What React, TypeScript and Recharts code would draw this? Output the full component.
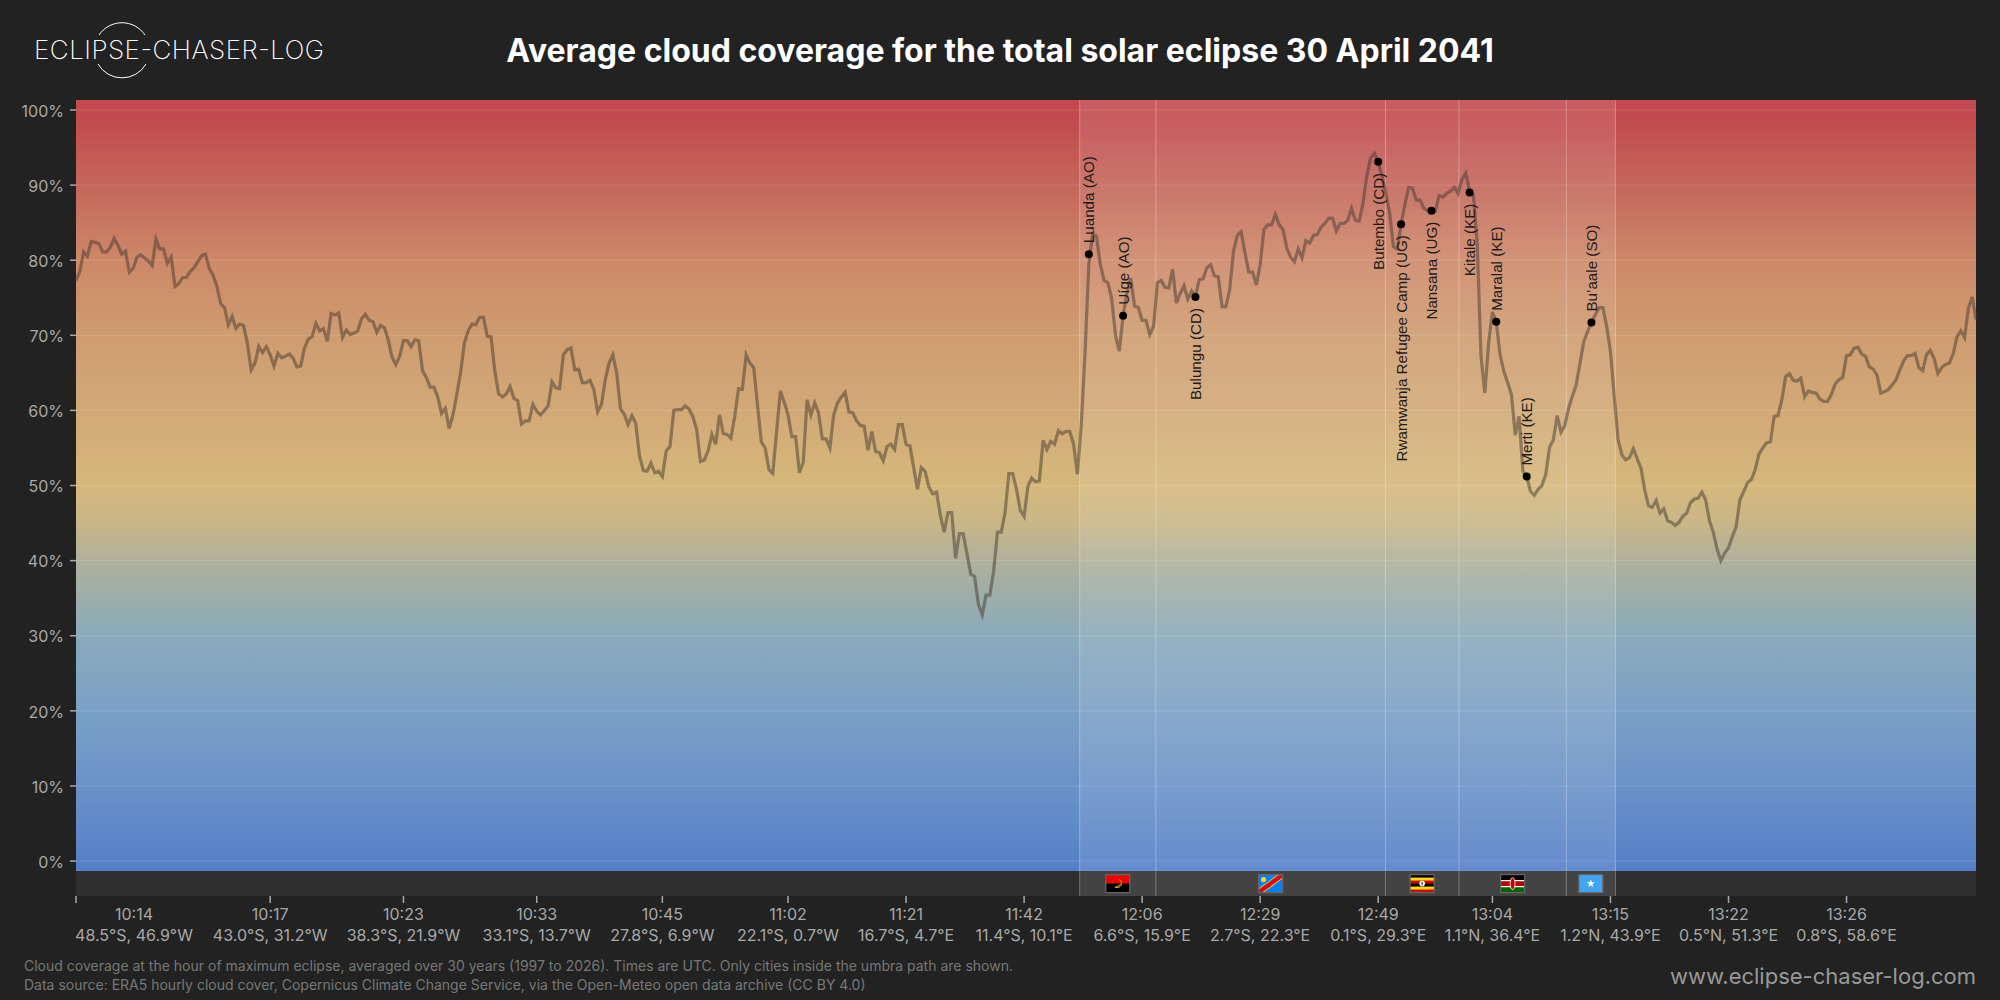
import {
  ComposedChart,
  Line,
  XAxis,
  YAxis,
  ReferenceArea,
  ReferenceLine,
  ReferenceDot,
} from "recharts";

const FONT = "Inter, 'Noto Sans', sans-serif";

// cloud cover along the umbra path, one value per sample (500 samples)
const cloudCover = [
  77.3, 78.5, 81.1, 80.5, 82.5, 82.4, 82.2, 81.1, 81.1, 81.7,
  82.9, 82.0, 80.8, 81.2, 78.4, 78.9, 80.4, 80.7, 80.3, 79.9,
  79.3, 82.8, 81.5, 81.5, 79.6, 80.4, 76.5, 76.9, 77.7, 77.7,
  78.5, 79.0, 79.8, 80.6, 80.8, 78.9, 78.0, 76.5, 74.2, 73.7,
  71.4, 72.5, 70.9, 71.5, 71.3, 69.0, 65.4, 66.3, 68.5, 67.7,
  68.5, 67.4, 65.9, 67.6, 67.0, 67.2, 67.5, 67.0, 65.8, 65.9,
  68.3, 69.5, 69.8, 71.6, 70.6, 70.9, 69.2, 72.9, 72.7, 73.0,
  69.7, 70.7, 70.1, 70.3, 70.6, 72.2, 72.8, 72.0, 71.8, 70.4,
  71.3, 71.0, 69.4, 67.1, 66.1, 67.2, 69.3, 69.3, 68.5, 69.4,
  69.3, 65.3, 64.4, 63.1, 63.1, 61.8, 59.6, 60.3, 57.6, 59.4,
  62.1, 65.0, 69.0, 70.6, 71.5, 71.4, 72.4, 72.4, 69.9, 69.8,
  65.2, 62.2, 61.8, 62.2, 63.2, 61.6, 61.3, 58.2, 58.6, 58.6,
  60.8, 59.9, 59.4, 60.0, 60.6, 63.8, 63.0, 62.9,
  67.4, 68.1, 68.3, 65.4, 65.5, 63.7, 63.7, 64.0, 62.8, 59.8,
  60.8, 64.1, 66.3, 67.4, 65.0, 60.2, 59.5, 58.1, 59.3, 58.3,
  53.9, 52.0, 51.9, 53.0, 51.7, 51.9, 51.2, 54.6, 55.2, 60.0,
  60.1, 60.1, 60.6, 60.2, 59.2, 57.5, 53.2, 53.4, 54.6, 56.8,
  55.5, 59.4, 56.9, 56.8, 56.3, 59.2, 62.9, 62.8, 67.4, 66.3,
  65.7, 60.6, 55.8, 55.0, 52.1, 51.6, 57.2, 62.6, 61.1, 59.4,
  56.5, 56.5, 51.7, 53.1, 61.4, 59.4, 61.0, 59.7, 56.2, 56.2,
  55.0, 59.4, 61.0, 61.8, 62.4, 59.8, 59.7, 58.6, 58.0, 57.9,
  54.7, 57.2, 54.5, 54.4, 53.3, 55.2, 55.5, 54.8, 58.1, 58.1,
  55.5, 55.3, 52.4, 49.5, 52.4, 51.9, 49.8, 48.9, 49.1, 46.1,
  43.8, 46.4, 46.4, 40.3, 43.6, 43.6, 40.9, 38.2, 37.9, 34.2,
  32.8, 35.4, 35.4, 38.6, 43.8, 43.8, 46.4, 51.6, 51.6, 49.5,
  46.7, 45.9, 49.9, 51.0, 50.5, 50.6, 56.0, 54.8, 55.9,
  55.5, 57.3, 56.9, 57.2, 57.2, 55.5, 51.5, 57.9, 67.6,
  79.5, 83.5, 83.2, 79.5, 77.3, 77.0, 74.9, 70.0, 67.9, 72.6,
  75.6, 77.6, 73.9, 73.7, 72.0, 72.0, 70.1, 71.2, 77.0, 77.3,
  76.4, 76.3, 78.8, 74.3, 75.6, 76.6, 74.8, 75.9, 75.2, 77.4,
  77.5, 79.0, 79.4, 77.9, 77.8, 73.8, 73.8, 76.1, 81.2, 83.3,
  83.8, 81.0, 78.4, 78.4, 76.7, 79.4, 84.1, 84.7, 84.7, 86.1,
  84.7, 84.1, 81.6, 80.4, 79.8, 81.5, 80.3, 82.6, 82.3, 83.3,
  83.4, 84.4, 84.9, 85.6, 85.6, 83.9, 84.9, 84.9, 85.3, 86.9,
  85.3, 85.2, 87.6, 91.2, 93.6, 94.2, 93.1, 91.2, 88.9, 86.3,
  81.8, 81.5, 84.8, 87.4, 89.7, 89.6, 88.0, 88.0, 86.9, 86.6,
  86.6, 86.5, 88.6, 88.4, 88.9, 89.2, 89.7, 88.9, 90.8, 91.6,
  89.2, 88.7, 82.3, 67.2, 62.3, 69.0, 73.1, 71.8, 67.4, 65.2,
  63.7, 62.1, 56.7, 59.2, 51.9, 51.2, 49.2, 48.7, 49.5, 50.0,
  51.5, 55.1, 56.1, 59.3, 57.1, 58.0, 60.3, 61.9, 63.4, 66.3,
  69.2, 70.5, 71.7, 72.7, 73.7, 73.7, 71.2, 67.8,
  61.8, 56.1, 54.1, 53.4, 53.7, 54.9, 53.6, 52.3, 49.4, 47.3,
  47.1, 48.0, 46.3, 46.9, 45.3, 45.1, 44.7, 45.1, 45.9, 46.3,
  47.7, 48.2, 48.3, 49.1, 48.1, 45.3, 43.8, 41.5, 40.0, 41.0,
  41.7, 43.2, 44.5, 48.1, 49.2, 50.4, 50.8, 52.1, 54.2, 55.0,
  55.7, 55.8, 59.2, 59.3, 61.4, 64.5, 64.9, 64.0, 63.9, 64.3,
  61.8, 62.6, 62.4, 62.3, 61.5, 61.2, 61.2, 62.1, 63.5, 64.1,
  64.4, 67.3, 67.4, 68.3, 68.4, 67.5, 67.2, 65.8, 65.5, 64.7,
  62.3, 62.5, 62.8, 63.4, 64.1, 65.4, 66.6, 67.3, 67.3, 67.6,
  65.7, 65.3, 67.4, 68.0, 66.9, 64.9, 65.7, 66.1, 66.3, 67.5,
  69.8, 70.6, 69.7, 73.6, 75.1, 72.1,
];

const tickSamples = [0, 51, 86, 121, 154, 187, 218, 249, 280, 311, 342, 372, 403, 434, 465];
const tickTimes = [
  "10:14", "10:17", "10:23", "10:33", "10:45", "11:02", "11:21", "11:42",
  "12:06", "12:29", "12:49", "13:04", "13:15", "13:22", "13:26",
];
const tickCoords = [
  "48.5°S, 46.9°W", "43.0°S, 31.2°W", "38.3°S, 21.9°W", "33.1°S, 13.7°W", "27.8°S, 6.9°W",
  "22.1°S, 0.7°W", "16.7°S, 4.7°E", "11.4°S, 10.1°E", "6.6°S, 15.9°E", "2.7°S, 22.3°E",
  "0.1°S, 29.3°E", "1.1°N, 36.4°E", "1.2°N, 43.9°E", "0.5°N, 51.3°E", "0.8°S, 58.6°E",
];
const yTicks = [0, 10, 20, 30, 40, 50, 60, 70, 80, 90, 100];

const cityNames = [
  "Luanda (AO)", "Uíge (AO)", "Bulungu (CD)", "Butembo (CD)", "Rwamwanja Refugee Camp (UG)",
  "Nansana (UG)", "Kitale (KE)", "Maralal (KE)", "Merti (KE)", "Bu’aale (SO)",
];
const citySamples = [266, 275, 294, 342, 348, 356, 366, 373, 381, 398];
const cityCover = [80.8, 72.6, 75.1, 93.1, 84.8, 86.6, 89.0, 71.8, 51.2, 71.7];
const citiesLabelledBelow = [
  "Bulungu (CD)", "Butembo (CD)", "Rwamwanja Refugee Camp (UG)", "Nansana (UG)", "Kitale (KE)",
];

// country stretches of the path, in samples
const countryCodes = ["AO", "CD", "UG", "KE", "SO"];
const countryStart = [263.6, 283.6, 343.9, 363.2, 391.4];
const countryEnd = [283.6, 343.9, 363.2, 391.4, 404.3];

const gradientValues = [101.3, 99, 90, 80, 70, 60, 50, 45, 40, 35, 30, 20, 10, 0, -1.3];
const gradientColors = [
  "#c24a4e", "#c24a4e", "#c4665a", "#cd8868", "#cf9c70", "#d2a976", "#d6b87b", "#c9b688",
  "#b0b19b", "#9cadaa", "#8aaabc", "#7ba0c6", "#6a92c8", "#5681c8", "#5280c8",
];

const rows = cloudCover.map((cover, sample) => {
  const c = citySamples.indexOf(sample);
  return {
    sample,
    cover,
    cityCover: c >= 0 ? cityCover[c] : null,
    city: c >= 0 ? cityNames[c] : null,
  };
});

function XTick({ x, y, payload }: any) {
  const idx = tickSamples.indexOf(payload.value);
  // the first label is pushed right so it stays inside the plot
  const cx = idx === 0 ? x + 58 : x;
  return (
    <g fontFamily={FONT} fontSize={16} fill="#a8a8a8" textAnchor="middle">
      <text x={cx} y={y + 15}>{tickTimes[idx]}</text>
      <text x={cx} y={y + 36}>{tickCoords[idx]}</text>
    </g>
  );
}

function CityDot({ cx, cy, payload }: any) {
  if (!payload.city) return <g key={payload.sample} />;
  const below = citiesLabelledBelow.includes(payload.city);
  const ly = below ? cy + 11 : cy - 11;
  return (
    <g key={payload.sample}>
      <circle cx={cx} cy={cy} r={4} fill="#000" />
      <text
        x={cx}
        y={ly}
        transform={`rotate(-90 ${cx} ${ly})`}
        textAnchor={below ? "end" : "start"}
        dominantBaseline="central"
        fontFamily="'Liberation Sans', sans-serif"
        fontSize={15.2}
        fill="#1c1c1c"
      >
        {payload.city}
      </text>
    </g>
  );
}

function Flag({ cx, cy, code }: any) {
  const w = 24;
  const h = 18;
  const x = cx - w / 2;
  const y = cy - h / 2;
  const mid = { x: cx, y: cy };
  let body = null;
  if (code === "AO") {
    body = (
      <>
        <rect x={x} y={y} width={w} height={h / 2} fill="#f00000" />
        <rect x={x} y={cy} width={w} height={h / 2} fill="#000" />
        <path
          d={`M${mid.x + 1.5} ${mid.y - 4} A4 4 0 1 1 ${mid.x - 2.5} ${mid.y + 3.5} M${mid.x - 3} ${mid.y + 4} L${mid.x + 3} ${mid.y + 1}`}
          fill="none"
          stroke="#e6b800"
          strokeWidth={1}
        />
      </>
    );
  } else if (code === "CD") {
    body = (
      <>
        <rect x={x} y={y} width={w} height={h} fill="#007fff" />
        <path d={`M${x} ${y + h} L${x} ${y + h - 4} L${x + w - 5} ${y} L${x + w} ${y} L${x + w} ${y + 4} L${x + 5} ${y + h} Z`} fill="#f7d618" />
        <path d={`M${x} ${y + h - 0.5} L${x} ${y + h - 3} L${x + w - 3.5} ${y} L${x + w} ${y} L${x + w} ${y + 3} L${x + 3.5} ${y + h} Z`} fill="#ce1021" />
        <circle cx={x + 5} cy={y + 5} r={2.6} fill="#f7d618" />
      </>
    );
  } else if (code === "UG") {
    const stripes = ["#000", "#fcdc04", "#d90000", "#000", "#fcdc04", "#d90000"];
    body = (
      <>
        {stripes.map((c, i) => (
          <rect key={i} x={x} y={y + (i * h) / 6} width={w} height={h / 6 + 0.3} fill={c} />
        ))}
        <circle cx={mid.x} cy={mid.y} r={2.8} fill="#fff" />
        <rect x={mid.x - 0.7} y={mid.y - 1.8} width={1.4} height={3.6} fill="#555" />
      </>
    );
  } else if (code === "KE") {
    body = (
      <>
        <rect x={x} y={y} width={w} height={h / 3} fill="#000" />
        <rect x={x} y={y + h / 3} width={w} height={h / 3} fill="#bb0000" />
        <rect x={x} y={y + (2 * h) / 3} width={w} height={h / 3} fill="#006600" />
        <rect x={x} y={y + h / 3 - 0.6} width={w} height={1.2} fill="#fff" />
        <rect x={x} y={y + (2 * h) / 3 - 0.6} width={w} height={1.2} fill="#fff" />
        <ellipse cx={mid.x} cy={mid.y} rx={2.4} ry={6} fill="#bb0000" stroke="#fff" strokeWidth={0.8} />
      </>
    );
  } else {
    const star = [0, 1, 2, 3, 4, 5, 6, 7, 8, 9]
      .map((k) => {
        const r = k % 2 ? 1.7 : 4.2;
        const a = (k * Math.PI) / 5 - Math.PI / 2;
        return `${mid.x + r * Math.cos(a)},${mid.y + r * Math.sin(a)}`;
      })
      .join(" ");
    body = (
      <>
        <rect x={x} y={y} width={w} height={h} fill="#41a5f5" />
        <polygon points={star} fill="#fff" />
      </>
    );
  }
  return (
    <g>
      {body}
      <rect x={x} y={y} width={w} height={h} fill="none" stroke="#666" strokeWidth={1.2} />
    </g>
  );
}

function Logo() {
  return (
    <svg width={340} height={100} style={{ position: "absolute", left: 0, top: 0 }}>
      <path d="M99 35 A27.7 27.7 0 0 1 145 35" fill="none" stroke="#fff" strokeWidth={1} />
      <path d="M98 64 A27.7 27.7 0 0 0 146 64" fill="none" stroke="#fff" strokeWidth={1} />
      <text
        x={34}
        y={59}
        fontFamily={FONT}
        fontWeight={200}
        fontSize={26}
        fill="#fff"
        textLength={290}
      >
        ECLIPSE-CHASER-LOG
      </text>
    </svg>
  );
}

export default function App() {
  return (
    <div
      style={{
        position: "absolute",
        left: 0,
        top: 0,
        width: 2000,
        height: 1000,
        background: "#222222",
        fontFamily: FONT,
        overflow: "hidden",
      }}
    >
      <ComposedChart
        width={2000}
        height={1000}
        data={rows}
        margin={{ top: 100, right: 24, left: 0, bottom: 0 }}
      >
        <defs>
          <linearGradient id="cloudFill" x1="0" y1="0" x2="0" y2="1">
            {gradientValues.map((v, i) => (
              <stop key={v} offset={(101.3 - v) / 102.6} stopColor={gradientColors[i]} />
            ))}
          </linearGradient>
        </defs>
        <XAxis
          dataKey="sample"
          type="number"
          domain={[0, 499]}
          ticks={tickSamples}
          interval={0}
          height={104}
          axisLine={false}
          tickSize={7}
          tickLine={{ stroke: "#a8a8a8", strokeWidth: 1.5 }}
          tick={<XTick />}
        />
        <YAxis
          type="number"
          domain={[-4.65, 101.33]}
          ticks={yTicks}
          width={76}
          axisLine={false}
          tickSize={6}
          tickMargin={6}
          tickLine={{ stroke: "#a8a8a8", strokeWidth: 1.5 }}
          tickFormatter={(v: number) => `${v}%`}
          tick={{ fill: "#a8a8a8", fontSize: 16, fontFamily: FONT, dy: 1 }}
        />
        <ReferenceArea x1={0} x2={499} y1={-4.65} y2={-1.33} fill="#2e2e2e" fillOpacity={1} stroke="none" />
        <ReferenceArea x1={0} x2={499} y1={-1.33} y2={101.33} fill="url(#cloudFill)" fillOpacity={1} stroke="none" />
        {yTicks.map((v) => (
          <ReferenceLine key={v} y={v} stroke="#fff" strokeOpacity={0.13} strokeWidth={1} />
        ))}
        {countryCodes.map((code, i) => (
          <ReferenceArea
            key={code}
            x1={countryStart[i]}
            x2={countryEnd[i]}
            y1={-4.65}
            y2={101.33}
            fill="#fff"
            fillOpacity={0.1}
            stroke="none"
          />
        ))}
        {[...countryStart, countryEnd[countryEnd.length - 1]].map((x) => (
          <ReferenceLine key={x} x={x} stroke="#fff" strokeOpacity={0.3} strokeWidth={1} />
        ))}
        {countryCodes.map((code, i) => (
          <ReferenceDot
            key={code}
            x={(countryStart[i] + countryEnd[i]) / 2}
            y={-3}
            shape={(p: any) => <Flag cx={p.cx} cy={p.cy} code={code} />}
          />
        ))}
        <Line
          dataKey="cover"
          type="linear"
          stroke="#443a30"
          strokeOpacity={0.5}
          strokeWidth={3.2}
          dot={false}
          activeDot={false}
          isAnimationActive={false}
        />
        <Line
          dataKey="cityCover"
          stroke="none"
          dot={(p: any) => <CityDot key={p.payload.sample} {...p} />}
          activeDot={false}
          isAnimationActive={false}
        />
      </ComposedChart>

      <Logo />
      <div
        style={{
          position: "absolute",
          left: 0,
          width: 2000,
          top: 30,
          textAlign: "center",
          color: "#fff",
          fontWeight: 700,
          fontSize: 32,
          lineHeight: "42px",
        }}
      >
        Average cloud coverage for the total solar eclipse 30 April 2041
      </div>
      <div
        style={{
          position: "absolute",
          left: 24,
          top: 957,
          color: "#777",
          fontSize: 14,
          lineHeight: "18.5px",
        }}
      >
        Cloud coverage at the hour of maximum eclipse, averaged over 30 years (1997 to 2026). Times are UTC. Only cities inside the umbra path are shown.
        <br />
        Data source: ERA5 hourly cloud cover, Copernicus Climate Change Service, via the Open-Meteo open data archive (CC BY 4.0)
      </div>
      <div
        style={{
          position: "absolute",
          right: 24,
          top: 962,
          color: "#999",
          fontSize: 22,
          lineHeight: "28px",
        }}
      >
        www.eclipse-chaser-log.com
      </div>
    </div>
  );
}
